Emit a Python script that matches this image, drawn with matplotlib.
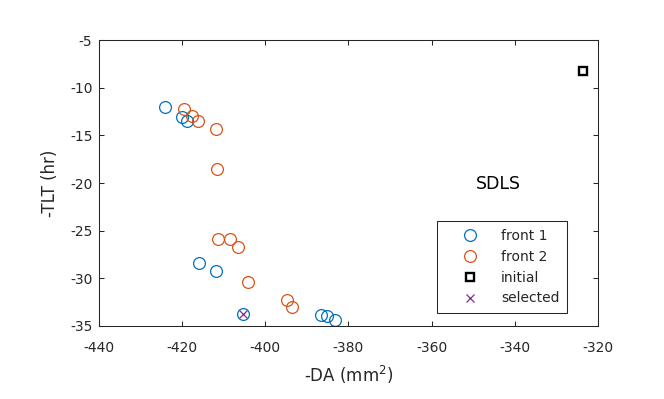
import matplotlib
matplotlib.use("Agg")
from matplotlib import pyplot as plt

plt.rcParams['font.family'] = ['DejaVu Sans']
plt.rcParams['axes.unicode_minus'] = False

# front 1 (blue circles)
front1_x = [-424.1, -420.1, -419.0, -416.0, -411.9, -405.4, -386.6, -385.1, -383.3]
front1_y = [-12.0, -13.1, -13.5, -28.4, -29.2, -33.7, -33.8, -34.0, -34.4]

# front 2 (orange circles)
front2_x = [-419.7, -417.6, -416.2, -411.9, -411.6, -411.5, -408.6, -406.7, -404.3, -394.8, -393.7]
front2_y = [-12.2, -13.0, -13.5, -14.3, -18.5, -25.9, -25.9, -26.7, -30.4, -32.3, -33.0]

initial_x = [-323.6]
initial_y = [-8.3]

selected_x = [-405.4]
selected_y = [-33.7]

x_ticks = [-440, -420, -400, -380, -360, -340, -320]
y_ticks = [-35, -30, -25, -20, -15, -10, -5]

blue = "#0072BD"
orange = "#D95319"
purple = "#7E2F8E"
ink = "#262626"

fig = plt.figure(figsize=(6.64, 3.99), dpi=100)
ax = fig.add_axes([0.1496, 0.183, 0.7504, 0.7167])

ax.plot(front1_x, front1_y, linestyle="none", marker="o", ms=8.5, mfc="none",
        mec=blue, mew=0.9, label="front 1")
ax.plot(front2_x, front2_y, linestyle="none", marker="o", ms=8.5, mfc="none",
        mec=orange, mew=0.9, label="front 2")
ax.plot(initial_x, initial_y, linestyle="none", marker="s", ms=5.6, mfc="none",
        mec="black", mew=1.7, label="initial")
ax.plot(selected_x, selected_y, linestyle="none", marker="x", ms=5.5,
        mec=purple, mew=0.9, label="selected")

ax.set_xlim(-440, -320)
ax.set_ylim(-35, -5)
ax.set_xticks(x_ticks)
ax.set_yticks(y_ticks)

for s in ax.spines.values():
    s.set_color(ink)
    s.set_linewidth(0.75)
ax.tick_params(direction="in", length=3.6, width=0.75, color=ink, labelcolor=ink,
               labelsize=10, top=True, right=True)
ax.tick_params(axis="x", pad=10.5)
ax.tick_params(axis="y", pad=5)

ax.set_xlabel("-DA (mm$^2$)", fontsize=12, color=ink, labelpad=6.5)
ax.set_ylabel("-TLT (hr)", fontsize=12, color=ink, labelpad=8)

ax.text(-343.8, -20.1, "SDLS", fontsize=12.5, color="black", ha="center", va="center")

leg = ax.legend(loc="upper right", bbox_to_anchor=(567.3 / 664, 1 - 221 / 399),
                bbox_transform=fig.transFigure, fontsize=10, frameon=True,
                fancybox=False, framealpha=1, edgecolor=ink, borderpad=0.55,
                labelspacing=0.5, handlelength=3.7, handletextpad=0.4,
                borderaxespad=0)
leg.get_frame().set_linewidth(0.75)
for t in leg.get_texts():
    t.set_color(ink)

fig.savefig("out.png", dpi=100)
